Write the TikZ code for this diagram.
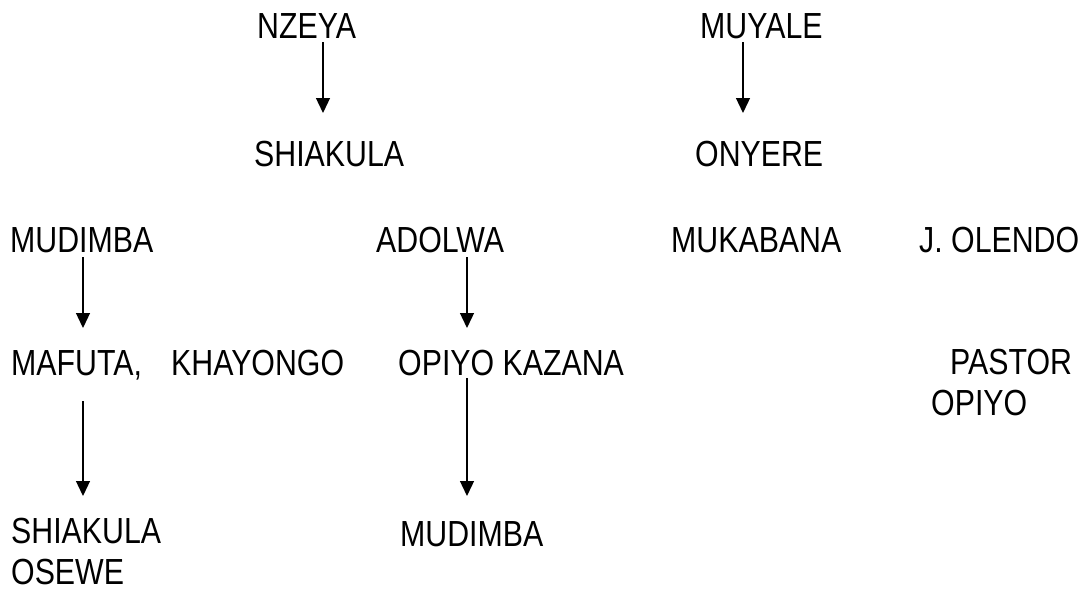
\documentclass[tikz,border=0pt]{standalone}
\usepackage{fontspec}
\setmainfont{Liberation Sans}[FakeStretch=0.835]
\usetikzlibrary{arrows.meta,calc}

\begin{document}
\begin{tikzpicture}[
    x=1pt, y=-1pt,
    person/.style={anchor=base west, inner sep=0pt, align=left,
        font=\fontsize{36.3pt}{41pt}\selectfont},
    kin/.style={-{Triangle[length=15pt, width=14pt]}, line width=1.3pt}
]
    \useasboundingbox (0,0) rectangle (1087,592);

    % first generation
    \node[person] (nzeya) at (257,38) {NZEYA};
    \node[person] (muyale) at (700,38) {MUYALE};
    \node[person] (shiakula) at (254,166) {SHIAKULA};
    \node[person] (onyere) at (695,166) {ONYERE};

    % second row
    \node[person] (mudimba) at (10,252) {MUDIMBA};
    \node[person] (adolwa) at (376,252) {ADOLWA};
    \node[person] (mukabana) at (671,252) {MUKABANA};
    \node[person] (olendo) at (919,252) {J. OLENDO};

    % third row (two-line names sit on their last line)
    \node[person] (mafuta) at (11,375) {MAFUTA,};
    \node[person] (khayongo) at (171,375) {KHAYONGO};
    \node[person] (kazana) at (398,375) {OPIYO KAZANA};
    \node[person] (pastor) at (931,415) {\hspace*{19pt}PASTOR\\OPIYO};

    % last row
    \node[person] (osewe) at (11,584) {SHIAKULA\\OSEWE};
    \node[person] (mudimbab) at (400,546) {MUDIMBA};

    % arrow columns
    \coordinate (colA) at (83,0);
    \coordinate (colB) at (323,0);
    \coordinate (colC) at (467,0);
    \coordinate (colD) at (743,0);

    \draw[kin] ($(nzeya.base -| colB)+(0,4)$) -- ($(shiakula.base -| colB)+(0,-53)$);
    \draw[kin] ($(muyale.base -| colD)+(0,4)$) -- ($(onyere.base -| colD)+(0,-53)$);
    \draw[kin] ($(mudimba.base -| colA)+(0,5)$) -- ($(mafuta.base -| colA)+(0,-47)$);
    \draw[kin] ($(adolwa.base -| colC)+(0,5)$) -- ($(kazana.base -| colC)+(0,-47)$);
    \draw[kin] ($(mafuta.base -| colA)+(0,26)$) -- ($(osewe.base -| colA)+(0,-88)$);
    \draw[kin] ($(kazana.base -| colC)+(0,3)$) -- ($(mudimbab.base -| colC)+(0,-50)$);

\end{tikzpicture}
\end{document}
